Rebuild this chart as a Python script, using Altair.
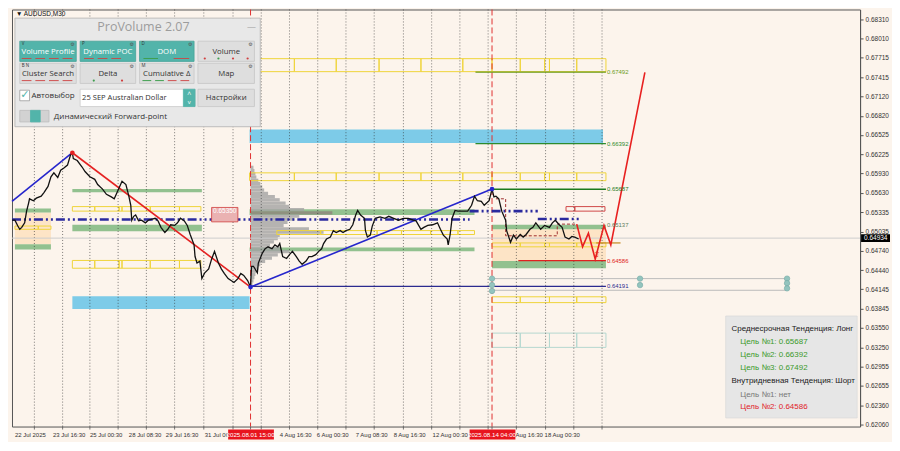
import altair as alt
import pandas as pd

# ---------------- values ----------------
W, H = 850, 418
XD = [0, 871]                 # bar-position units
YD = [0.62030, 0.68458]       # price range shown

y_ticks = [0.68310, 0.68010, 0.67715, 0.67415, 0.67120, 0.66820, 0.66525, 0.66225,
           0.65930, 0.65630, 0.65335, 0.65035, 0.64740, 0.64440, 0.64145, 0.63845,
           0.63550, 0.63250, 0.62955, 0.62655, 0.62360, 0.62060]

x_label_pos = [3, 42, 80, 120, 158, 198, 275, 313, 353, 392, 432, 509, 547]
x_label_text = ["22 Jul 2025", "23 Jul 16:30", "25 Jul 00:30", "28 Jul 08:30", "29 Jul 16:30",
                "31 Jul 00:30", "4 Aug 16:30", "6 Aug 00:30", "7 Aug 08:30", "8 Aug 16:30",
                "12 Aug 00:30", "15 Aug 16:30", "18 Aug 00:30"]
session_x = [245, 493]
session_text = ["2025.08.01 15:00", "2025.08.14 04:00"]
grid_x = [23, 52, 80, 109, 138, 167, 197, 227, 256, 285, 314, 343, 372, 402, 431, 460,
          489, 518, 548, 577, 606]

price_pts = [(0,0.6521),(3,0.6521),(6,0.6512),(8,0.6507),(10,0.6510),(13,0.6517),(15,0.6535),
 (17,0.6547),(18,0.6554),(22,0.6551),(25,0.6555),(30,0.6558),(33,0.6564),(37,0.6573),(40,0.6588),
 (43,0.6594),(47,0.6587),(50,0.6598),(53,0.6601),(57,0.6606),(60,0.6621),(62,0.6625),(63,0.6616),
 (67,0.6613),(72,0.6603),(75,0.6596),(80,0.6588),(85,0.6584),(88,0.6576),(93,0.6569),(97,0.6561),
 (102,0.6557),(105,0.6554),(108,0.6564),(113,0.6581),(117,0.6576),(120,0.6558),(122,0.6544),
 (123,0.6521),(125,0.6527),(127,0.6529),(130,0.6520),(133,0.6521),(137,0.6517),(140,0.6521),
 (147,0.6524),(150,0.6520),(153,0.6510),(157,0.6502),(160,0.6507),(163,0.6514),(167,0.6513),
 (170,0.6517),(173,0.6524),(177,0.6520),(180,0.6513),(183,0.6499),(187,0.6483),(188,0.6465),
 (190,0.6455),(193,0.6458),(195,0.6431),(198,0.6440),(202,0.6446),(205,0.6461),(208,0.6473),
 (212,0.6455),(215,0.6446),(218,0.6439),(222,0.6431),(225,0.6428),(228,0.6425),(232,0.6431),
 (235,0.6439),(238,0.6436),(242,0.6428),(245,0.6418),(246,0.6450),(248,0.6450),(252,0.6440),
 (253,0.6455),(257,0.6470),(260,0.6477),(263,0.6480),(267,0.6477),(270,0.6483),(273,0.6480),
 (275,0.6485),(278,0.6465),(282,0.6462),(285,0.6468),(288,0.6473),(292,0.6465),(295,0.6458),
 (298,0.6453),(302,0.6458),(305,0.6465),(308,0.6465),(312,0.6468),(315,0.6473),(318,0.6477),
 (320,0.6485),(323,0.6492),(327,0.6495),(330,0.6505),(333,0.6502),(337,0.6505),(340,0.6502),
 (343,0.6505),(347,0.6507),(350,0.6514),(353,0.6529),(355,0.6536),(358,0.6529),(362,0.6524),
 (363,0.6505),(365,0.6495),(368,0.6498),(370,0.6512),(373,0.6524),(378,0.6526),(383,0.6524),
 (387,0.6527),(392,0.6524),(397,0.6521),(402,0.6524),(407,0.6524),(412,0.6521),(415,0.6520),
 (420,0.6507),(423,0.6510),(427,0.6513),(432,0.6514),(437,0.6517),(440,0.6507),(443,0.6498),
 (447,0.6492),(448,0.6483),(450,0.6499),(452,0.6524),(455,0.6536),(458,0.6535),(463,0.6535),
 (468,0.6535),(472,0.6544),(475,0.6558),(478,0.6551),(482,0.6550),(485,0.6544),(490,0.6551),
 (493,0.6569),(495,0.6557),(497,0.6558),(500,0.6554),(503,0.6535),(507,0.6521),(508,0.6505),
 (512,0.6487),(515,0.6498),(518,0.6492),(522,0.6499),(525,0.6495),(528,0.6499),(532,0.6507),
 (535,0.6510),(538,0.6517),(543,0.6507),(547,0.6513),(552,0.6510),(555,0.6517),(558,0.6521),
 (562,0.6514),(565,0.6510),(568,0.6495),(572,0.6492),(575,0.6496),(578,0.6495),(582,0.6492)]
bar_idx = [p[0] for p in price_pts]
close = [p[1] for p in price_pts]

current_price = 0.64934

trend_seg = ["a", "a", "b", "b", "c", "c"]
trend_x = [0, 62, 62, 245, 245, 493]
trend_p = [0.6550, 0.6625, 0.6625, 0.6418, 0.6418, 0.6569]
trend_c = ["#2626cc", "#2626cc", "#e52222", "#e52222", "#2626cc", "#2626cc"]

dd_x1 = [0, 470, 540]
dd_x2 = [470, 540, 583]
dd_p = [0.6522, 0.6535, 0.6523]

poc_x = [497, 507, 507, 560, 560, 580]
poc_p = [0.6554, 0.6554, 0.6497, 0.6497, 0.6515, 0.6515]

proj_x = [580, 586, 592, 599, 608, 615, 650]
proj_p = [0.6515, 0.6480, 0.6501, 0.6461, 0.6513, 0.6483, 0.6749]

tgt_x1 = [476, 476, 493, 520, 244, 600]
tgt_x2 = [610, 610, 610, 610, 610, 625]
tgt_p = [0.67492, 0.66392, 0.65687, 0.64586, 0.64191, 0.6486]
tgt_c = ["#6b9b1b", "#2e8b2e", "#1d7a1d", "#e02020", "#2b2b8f", "#c8902a"]

tl_p = [0.67492, 0.66392, 0.65687, 0.65137, 0.64586, 0.64191]
tl_t = ["0.67492", "0.66392", "0.65687", "0.65137", "0.64586", "0.64191"]
tl_c = ["#6b9b1b", "#2e8b2e", "#1d7a1d", "#5d7d5d", "#e02020", "#2b2b8f"]

# filled zones: x1, x2, low, high, colour, opacity
zones = [
    (3, 40, 0.6484, 0.6533, "#fde0bd", 0.8),
    (493, 610, 0.6458, 0.6507, "#fde0bd", 0.8),
    (62, 244, 0.6384, 0.6404, "#7dcbe8", 1.0),
    (244, 607, 0.6640, 0.6661, "#7dcbe8", 1.0),
    (3, 40, 0.6533, 0.6539, "#7fb77f", 0.85),
    (3, 40, 0.6476, 0.6484, "#7fb77f", 0.85),
    (62, 195, 0.6564, 0.6569, "#7fb77f", 0.85),
    (62, 195, 0.6504, 0.6514, "#7fb77f", 0.85),
    (244, 475, 0.6529, 0.6538, "#7fb77f", 0.85),
    (244, 475, 0.6473, 0.6479, "#7fb77f", 0.85),
    (493, 610, 0.6507, 0.6514, "#7fb77f", 0.85),
    (493, 610, 0.6447, 0.6458, "#7fb77f", 0.85),
]

# outlined zones: cell borders, low, high, colour
boxes = [
    ([250, 290, 333, 377, 420, 463, 493, 522, 547, 552, 580, 610], 0.6750, 0.6770, "#efd43a"),
    ([244, 290, 333, 377, 420, 463, 493, 522, 547, 552, 580, 610], 0.6582, 0.6594, "#efd43a"),
    ([62, 85, 110, 113, 142, 172, 194], 0.6535, 0.6542, "#efd43a"),
    ([3, 27, 40], 0.6507, 0.6512, "#efd43a"),
    ([62, 85, 110, 113, 142, 172, 194], 0.6447, 0.6459, "#efd43a"),
    ([272, 317, 375, 400, 430, 458, 475], 0.6499, 0.6505, "#efd43a"),
    ([493, 522, 547, 552, 580, 610], 0.6480, 0.6486, "#efd43a"),
    ([493, 522, 552, 580, 610], 0.6394, 0.6403, "#efd43a"),
    ([493, 522, 552, 580, 610], 0.6325, 0.6347, "#b5d8d0"),
    ([569, 578, 609], 0.6535, 0.6542, "#d04848"),
]

vp_start = 245
vp_p = [0.6600, 0.6595, 0.6590, 0.6585, 0.6580, 0.6575, 0.6570, 0.6565, 0.6560, 0.6555,
        0.6550, 0.6545, 0.6540, 0.6535, 0.6530, 0.6525, 0.6520, 0.6515, 0.6510, 0.6505,
        0.6500, 0.6495, 0.6490, 0.6485, 0.6480, 0.6475, 0.6470, 0.6465, 0.6460, 0.6455,
        0.6450, 0.6445, 0.6440, 0.6435, 0.6430, 0.6425, 0.6420]
vp_w = [3, 4, 5, 6, 8, 10, 12, 14, 18, 25, 30, 36, 40, 55, 84, 50, 45, 38, 34, 60,
        75, 30, 28, 24, 20, 30, 40, 28, 22, 15, 10, 8, 6, 5, 4, 3, 2]

circ_x = [493, 493, 493, 645, 645, 796, 796, 796]
circ_p = [0.6431, 0.6421, 0.6412, 0.6431, 0.6421, 0.6431, 0.6424, 0.6416]
link_p = [0.6431, 0.6413]

vert_x = [62, 245, 493]
vert_p = [0.6625, 0.6418, 0.6569]
vert_c = ["#e52222", "#2626cc", "#2626cc"]

# ---------------- styling / helpers ----------------
BG = "#fcf4ec"
FONT = "Liberation Sans"
UI = "Open Sans"
TEAL = "#52b4aa"
BTN = "#dedede"

xs = alt.Scale(domain=XD, nice=False, zero=False)
ys = alt.Scale(domain=YD, nice=False, zero=False)
yaxis = alt.Axis(orient="right", values=y_ticks, format=".5f", title=None, grid=False,
                 labelFontSize=6.5, labelColor="#333", labelFont=FONT, tickSize=3,
                 tickColor="#555", domainColor="#555", labelPadding=2,
                 labelOverlap=False, labelFlush=False)


def X(f):
    return alt.X(f, type="quantitative", scale=xs, axis=None)


def Y(f):
    return alt.Y(f, type="quantitative", scale=ys, axis=yaxis)


def py2p(py):
    # layout helper for overlay panels (reference pixel row -> price position)
    return YD[1] - (py - 3) * (YD[1] - YD[0]) / 434.0


C = lambda f: alt.Color(f, type="nominal", scale=None)

layers = []

# zones
zdf = pd.DataFrame(zones, columns=["x1", "x2", "lo", "hi", "c", "o"])
layers.append(alt.Chart(zdf).mark_rect().encode(
    x=X("x1"), x2=alt.X2("x2"), y=Y("lo"), y2=alt.Y2("hi"), color=C("c"),
    opacity=alt.Opacity("o:Q", scale=None)))

# volume profile
vdf = pd.DataFrame({"p": vp_p, "w": vp_w})
vdf["x1"] = vp_start
vdf["x2"] = vp_start + vdf["w"]
vdf["p2"] = vdf["p"] + 0.0005
vdf["c"] = ["#8f857a" if w == max(vp_w) else "#a3a3a3" for w in vp_w]
layers.append(alt.Chart(vdf).mark_rect(opacity=0.8).encode(
    x=X("x1"), x2=alt.X2("x2"), y=Y("p"), y2=alt.Y2("p2"), color=C("c")))

# outlined boxes
rows = []
for edges, lo, hi, col in boxes:
    for a, b in zip(edges[:-1], edges[1:]):
        rows.append((a, b, lo, hi, col))
bdf = pd.DataFrame(rows, columns=["x1", "x2", "lo", "hi", "c"])
layers.append(alt.Chart(bdf).mark_rect(filled=False, strokeWidth=1).encode(
    x=X("x1"), x2=alt.X2("x2"), y=Y("lo"), y2=alt.Y2("hi"), color=C("c")))

# grid and session lines
layers.append(alt.Chart(pd.DataFrame({"x": grid_x})).mark_rule(
    strokeDash=[1, 2], color="#333", strokeWidth=0.8, opacity=0.8).encode(x=X("x")))
layers.append(alt.Chart(pd.DataFrame({"x": session_x})).mark_rule(
    strokeDash=[6, 3], color="#e03030", strokeWidth=1).encode(x=X("x")))

# current price line
layers.append(alt.Chart(pd.DataFrame({"p": [current_price]})).mark_rule(
    color="#cdcdcd", strokeWidth=1).encode(y=Y("p")))

# links between circles
ldf = pd.DataFrame({"p": link_p, "x1": 493, "x2": 796})
layers.append(alt.Chart(ldf).mark_rule(color="#bcbcbc", strokeWidth=1).encode(
    x=X("x1"), x2=alt.X2("x2"), y=Y("p")))

# target lines
tdf = pd.DataFrame({"x1": tgt_x1, "x2": tgt_x2, "p": tgt_p, "c": tgt_c})
layers.append(alt.Chart(tdf).mark_rule(strokeWidth=1.3).encode(
    x=X("x1"), x2=alt.X2("x2"), y=Y("p"), color=C("c")))

# dash-dot level
ddf = pd.DataFrame({"x1": dd_x1, "x2": dd_x2, "p": dd_p})
layers.append(alt.Chart(ddf).mark_rule(strokeDash=[9, 3, 2, 3, 2, 3], strokeWidth=2.6,
                                      color="#2a2a9e").encode(
    x=X("x1"), x2=alt.X2("x2"), y=Y("p")))

# POC step line
pdf = pd.DataFrame({"x": poc_x, "p": poc_p, "i": range(len(poc_x))})
layers.append(alt.Chart(pdf).mark_line(color="#a03030", strokeWidth=1, strokeDash=[3, 2]).encode(
    x=X("x"), y=Y("p"), order="i:Q"))

# trend lines
trdf = pd.DataFrame({"s": trend_seg, "x": trend_x, "p": trend_p, "c": trend_c})
layers.append(alt.Chart(trdf).mark_line(strokeWidth=1.6).encode(
    x=X("x"), y=Y("p"), color=C("c"), detail="s:N"))

# price
prdf = pd.DataFrame({"x": bar_idx, "p": close})
layers.append(alt.Chart(prdf).mark_line(color="#111111", strokeWidth=1.3).encode(
    x=X("x"), y=Y("p")))

# projection
pjdf = pd.DataFrame({"x": proj_x, "p": proj_p})
layers.append(alt.Chart(pjdf).mark_line(color="#e82020", strokeWidth=1.6).encode(
    x=X("x"), y=Y("p")))

# vertex dots and circles
layers.append(alt.Chart(pd.DataFrame({"x": vert_x, "p": vert_p, "c": vert_c})).mark_circle(
    size=22, opacity=1).encode(x=X("x"), y=Y("p"), color=C("c")))
layers.append(alt.Chart(pd.DataFrame({"x": circ_x, "p": circ_p})).mark_circle(
    size=30, opacity=1, color="#93c4be", stroke="#74aaa4", strokeWidth=0.6).encode(
    x=X("x"), y=Y("p")))

# target labels
layers.append(alt.Chart(pd.DataFrame({"p": tl_p, "t": tl_t, "c": tl_c, "x": 611})).mark_text(
    align="left", baseline="middle", fontSize=6, font=FONT).encode(
    x=X("x"), y=Y("p"), text="t:N", color=C("c")))
layers.append(alt.Chart(pd.DataFrame({"x": [601], "p": [0.6468], "t": ["⇧"]})).mark_text(
    fontSize=8, color="#e02020", font="DejaVu Sans").encode(x=X("x"), y=Y("p"), text="t:N"))

# profile price tag
tagdf = pd.DataFrame({"x1": [205], "x2": [232], "lo": [py2p(224)], "hi": [py2p(209)]})
layers.append(alt.Chart(tagdf).mark_rect(color="#eab2b2", stroke="#d04040", strokeWidth=0.8).encode(
    x=X("x1"), x2=alt.X2("x2"), y=Y("lo"), y2=alt.Y2("hi")))
layers.append(alt.Chart(pd.DataFrame({"x": [218.5], "p": [py2p(213)], "t": ["0.65350"]})).mark_text(
    fontSize=6.5, color="#ffffff", font=FONT).encode(x=X("x"), y=Y("p"), text="t:N"))

# ---------------- ProVolume panel + info box ----------------
panel = [
    (3, 255, 12, 125, "#e8e8e8", "#b0b0b0"),
    (8, 66, 36, 57, TEAL, "#46a298"), (70, 127, 36, 57, TEAL, "#46a298"),
    (131, 187, 36, 57, TEAL, "#46a298"), (191, 249, 36, 57, BTN, "#c6c6c6"),
    (8, 66, 59, 80, BTN, "#c6c6c6"), (70, 127, 59, 80, BTN, "#c6c6c6"),
    (131, 187, 59, 80, BTN, "#c6c6c6"), (191, 249, 59, 80, BTN, "#c6c6c6"),
    (8, 18, 87, 98, "#ffffff", "#9a9a9a"),
    (70, 188, 86, 104, "#ffffff", "#cccccc"),
    (176, 188, 86, 104, TEAL, TEAL),
    (191, 249, 86, 104, BTN, "#c6c6c6"),
    (8, 38, 108, 120, "#d2d2d2", "#bdbdbd"),
    (19, 29, 108, 120, TEAL, TEAL),
    (733, 868, 322, 428, "#e6e6e6", "#dadada"),
]
pnl = pd.DataFrame(panel, columns=["x1", "x2", "y1", "y2", "c", "s"])
pnl["lo"] = pnl["y2"].map(py2p)
pnl["hi"] = pnl["y1"].map(py2p)
layers.append(alt.Chart(pnl).mark_rect(strokeWidth=0.8).encode(
    x=X("x1"), x2=alt.X2("x2"), y=Y("lo"), y2=alt.Y2("hi"), color=C("c"),
    stroke=alt.Stroke("s:N", scale=None)))

# button decorations
deco = [(10, 20, 54, "#c0504d"), (24, 34, 54, "#c0504d"), (38, 48, 54, "#c0504d"), (52, 62, 54, "#c0504d"),
        (74, 84, 54, "#c0504d"), (88, 98, 54, "#c0504d"), (102, 112, 54, "#c0504d"),
        (135, 150, 54, "#3f9f4f"), (166, 182, 54, "#c0504d"),
        (10, 20, 77, "#d05050"), (24, 34, 77, "#d05050"), (38, 48, 77, "#d05050"), (52, 62, 77, "#d05050"),
        (134, 143, 77, "#3f9f4f"), (147, 156, 77, "#3f9f4f"), (160, 169, 77, "#d05050"),
        (173, 182, 77, "#d05050")]
dd = pd.DataFrame(deco, columns=["x1", "x2", "y", "c"])
dd["p"] = dd["y"].map(py2p)
layers.append(alt.Chart(dd).mark_rule(strokeWidth=1).encode(
    x=X("x1"), x2=alt.X2("x2"), y=Y("p"), color=C("c")))
dots = pd.DataFrame([(198, 54, "#d04040"), (212, 54, "#3f9f4f"), (227, 54, "#d04040"),
                     (242, 54, "#d04040"), (84, 77, "#3f9f4f"), (113, 77, "#d04040")],
                    columns=["x", "y", "c"])
dots["p"] = dots["y"].map(py2p)
layers.append(alt.Chart(dots).mark_circle(size=5, opacity=1).encode(
    x=X("x"), y=Y("p"), color=C("c")))

BS = 7.8
ctext = [
    ("ProVolume 2.07", 135, 21, "#9c9c9c", 12.5),
    ("—", 246, 21, "#9c9c9c", 9),
    ("Volume Profile", 37, 47.5, "#ffffff", BS),
    ("Dynamic POC", 98.5, 47.5, "#ffffff", BS),
    ("DOM", 159, 47.5, "#ffffff", BS),
    ("Volume", 220, 47.5, "#333333", BS),
    ("Cluster Search", 37, 70.5, "#333333", BS),
    ("Delta", 98.5, 70.5, "#333333", BS),
    ("Cumulative Δ", 159, 70.5, "#333333", BS),
    ("Map", 220, 70.5, "#333333", BS),
    ("Настройки", 220, 95.5, "#333333", BS),
    ("^", 182, 92, "#ffffff", 7),
    ("v", 182, 99, "#ffffff", 6),
]
ct = pd.DataFrame(ctext, columns=["t", "x", "y", "c", "s"])
ct["p"] = ct["y"].map(py2p)
layers.append(alt.Chart(ct).mark_text(baseline="middle", align="center", font=UI).encode(
    x=X("x"), y=Y("p"), text="t:N", color=C("c"), size=alt.Size("s:Q", scale=None)))

ltext = [
    ("✓", 8.5, 92, TEAL, 11, "DejaVu Sans"),
    ("Автовыбор", 20, 93, "#333333", 8, UI),
    ("25 SEP Australian Dollar", 72, 95.5, "#333333", 7.6, UI),
    ("Динамический Forward-point", 43, 114.5, "#333333", 8, UI),
    ("V", 10, 38.5, "#333333", 4.5, UI), ("P", 72, 38.5, "#333333", 4.5, UI),
    ("D", 133, 38.5, "#333333", 4.5, UI), ("B  N", 10, 61.5, "#333333", 4.5, UI),
    ("M", 133, 61.5, "#333333", 4.5, UI),
    ("Среднесрочная Тенденция: Лонг", 739, 335, "#222222", 8, FONT),
    ("Цель №1: 0.65687", 748, 349, "#3a9a2a", 8, FONT),
    ("Цель №2: 0.66392", 748, 363, "#3a9a2a", 8, FONT),
    ("Цель №3: 0.67492", 748, 376, "#3a9a2a", 8, FONT),
    ("Внутридневная Тенденция: Шорт", 739, 390, "#222222", 8, FONT),
    ("Цель №1: нет", 748, 404, "#777777", 8, FONT),
    ("Цель №2: 0.64586", 748, 417, "#e0242a", 8, FONT),
    ("▼ AUDUSD,M30", 4, 7.5, "#111111", 6.5, FONT),
]
for fnt in [UI, FONT, "DejaVu Sans"]:
    sub = [r for r in ltext if r[5] == fnt]
    lt = pd.DataFrame(sub, columns=["t", "x", "y", "c", "s", "f"])
    lt["p"] = lt["y"].map(py2p)
    layers.append(alt.Chart(lt).mark_text(baseline="middle", align="left", font=fnt).encode(
        x=X("x"), y=Y("p"), text="t:N", color=C("c"), size=alt.Size("s:Q", scale=None)))

# gear icons
gear = pd.DataFrame({"x": [62, 123, 183, 245, 62, 123, 183, 245],
                     "y": [39, 39, 39, 39, 62, 62, 62, 62]})
gear["p"] = gear["y"].map(py2p)
layers.append(alt.Chart(gear).mark_text(text="⚙", fontSize=5, color="#555555",
                                        font="DejaVu Sans").encode(x=X("x"), y=Y("p")))

# ---------------- time axis ----------------
layers.append(alt.Chart(pd.DataFrame({"x": grid_x + session_x})).mark_rule(
    color="#555", strokeWidth=0.8).encode(x=X("x"), y=alt.value(H), y2=alt.value(H + 3)))
xl = pd.DataFrame({"x": x_label_pos, "t": x_label_text})
layers.append(alt.Chart(xl).mark_text(align="left", baseline="middle", fontSize=6,
                                      color="#333", font=FONT).encode(
    x=X("x"), y=alt.value(H + 8), text="t:N"))
sl = pd.DataFrame({"x": session_x, "t": session_text})
sl["x1"] = sl["x"] - 23
sl["x2"] = sl["x"] + 24
layers.append(alt.Chart(sl).mark_rect(color="#e8141e").encode(
    x=X("x1"), x2=alt.X2("x2"), y=alt.value(H + 3), y2=alt.value(H + 13)))
layers.append(alt.Chart(sl).mark_text(align="center", baseline="middle", fontSize=6.2,
                                      color="#ffffff", font=FONT).encode(
    x=X("x"), y=alt.value(H + 8), text="t:N"))

# current price tag on the price axis
cp = pd.DataFrame({"p": [current_price], "lo": [current_price - 0.0006],
                   "hi": [current_price + 0.0006], "t": [f"{current_price:.5f}"]})
layers.append(alt.Chart(cp).mark_rect(color="#000000").encode(
    x=alt.value(W + 1), x2=alt.value(W + 30), y=Y("lo"), y2=alt.Y2("hi")))
layers.append(alt.Chart(cp).mark_text(align="left", baseline="middle", fontSize=6.5,
                                      color="#ffffff", font=FONT).encode(
    x=alt.value(W + 4), y=Y("p"), text="t:N"))

chart = alt.layer(*layers).properties(
    width=W, height=H, background=BG,
    padding={"left": 0, "top": 0, "right": 2, "bottom": 2},
).configure_view(stroke="#555555", strokeWidth=1)

chart.save("out.html", embed_options={"renderer": "svg", "actions": False})
